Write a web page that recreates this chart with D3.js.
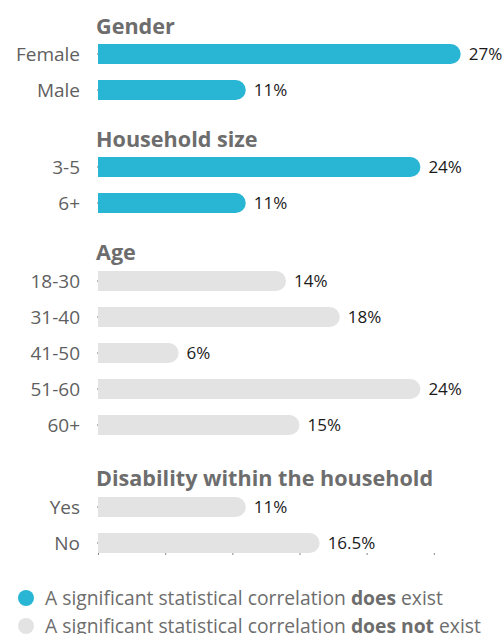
<!DOCTYPE html>
<html>
<head>
<meta charset="utf-8">
<script src="https://cdn.jsdelivr.net/npm/d3@7"></script>
<style>
  body { margin: 0; background: #fff; }
  svg { display: block; font-family: "Open Sans", Lato, sans-serif; }
</style>
</head>
<body>
<svg id="chart" width="503" height="634"></svg>
<script>
// groups and their values
const groupTitles = ["Gender", "Household size", "Age", "Disability within the household"];
const genderCats = ["Female", "Male"];
const genderVals = [27, 11];
const householdCats = ["3-5", "6+"];
const householdVals = [24, 11];
const ageCats = ["18-30", "31-40", "41-50", "51-60", "60+"];
const ageVals = [14, 18, 6, 24, 15];
const disabilityCats = ["Yes", "No"];
const disabilityVals = [11, 16.5];
const valueLabels = ["27%", "11%", "24%", "11%", "14%", "18%", "6%", "24%", "15%", "11%", "16.5%"];
const significant = [true, true, false, false];
const legendItems = [
  {pre: "A significant statistical correlation ", bold: "does", post: " exist", sig: true},
  {pre: "A significant statistical correlation ", bold: "does not", post: " exist", sig: false}
];

let svg = d3.select("#chart");
let teal = "#29b6d4", grey = "#e3e3e3";

let x = d3.scaleLinear().domain([0, 30]).range([98, 501]);

let groups = [
  {title: groupTitles[0], cats: genderCats, vals: genderVals, titleY: 34, top: 44},
  {title: groupTitles[1], cats: householdCats, vals: householdVals, titleY: 147, top: 157},
  {title: groupTitles[2], cats: ageCats, vals: ageVals, titleY: 260, top: 271},
  {title: groupTitles[3], cats: disabilityCats, vals: disabilityVals, titleY: 486, top: 497}
];

let barH = 20, step = 36;
let labelIdx = 0;

// bar with rounded right end
function barPath(x0, x1, y0, h) {
  let r = Math.min(h / 2, x1 - x0);
  return `M${x0},${y0}H${x1 - r}A${r},${h / 2} 0 0 1 ${x1 - r},${y0 + h}H${x0}Z`;
}

groups.forEach((g, gi) => {
  let gg = svg.append("g");
  gg.append("text")
    .attr("x", 96).attr("y", g.titleY)
    .attr("font-size", 21.6).attr("font-weight", 700)
    .attr("fill", "#6d6d6d")
    .text(g.title);

  g.vals.forEach((v, i) => {
    let c = g.cats[i];
    let y0 = g.top + i * step;
    gg.append("path")
      .attr("d", barPath(x(0), x(v), y0, barH))
      .attr("fill", significant[gi] ? teal : grey);
    // tiny y tick
    gg.append("rect").attr("x", x(0) - 1).attr("y", y0 + barH / 2 - 0.5)
      .attr("width", 1).attr("height", 1).attr("fill", "#777");
    gg.append("text")
      .attr("x", 80).attr("y", y0 + barH / 2)
      .attr("dy", "0.35em").attr("text-anchor", "end")
      .attr("font-size", 19).attr("fill", "#5f5f5f")
      .text(c);
    gg.append("text")
      .attr("x", x(v) + 8).attr("y", y0 + barH / 2)
      .attr("dy", "0.35em")
      .attr("font-size", 17).attr("fill", "#1a1a1a")
      .text(valueLabels[labelIdx++]);
  });

  if (gi === groups.length - 1) {
    let axisY = g.top + step * (g.cats.length - 1) + barH;
    let ax = svg.append("g")
      .attr("transform", `translate(0,${axisY})`)
      .call(d3.axisBottom(x).tickValues([0, 5, 10, 15, 20, 25]).tickSize(2).tickFormat(""));
    ax.select(".domain").remove();
    ax.selectAll("line").attr("stroke", "#888");
  }
});

// legend
let leg = svg.append("g");
legendItems.forEach((d, i) => {
  let cy = 598 + i * 28;
  leg.append("circle").attr("cx", 26).attr("cy", cy).attr("r", 8)
    .attr("fill", d.sig ? teal : grey);
  let t = leg.append("text").attr("x", 45).attr("y", cy).attr("dy", "0.35em")
    .attr("font-size", 19.3).attr("fill", "#6d6d6d");
  t.append("tspan").text(d.pre);
  t.append("tspan").attr("font-weight", 700).text(d.bold);
  t.append("tspan").text(d.post);
});
</script>
</body>
</html>
